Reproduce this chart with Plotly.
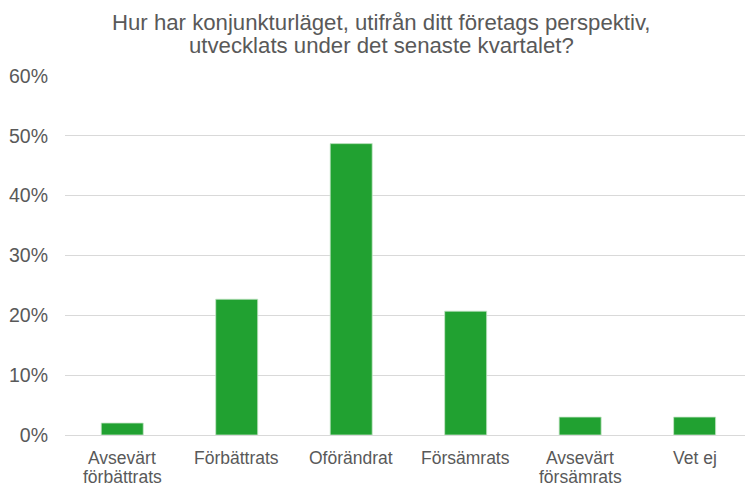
import plotly.graph_objects as go

categories = ["Avsevärt\nförbättrats", "Förbättrats", "Oförändrat", "Försämrats", "Avsevärt\nförsämrats", "Vet ej"]
values = [0.020, 0.227, 0.487, 0.207, 0.030, 0.030]
tick_vals = [0, 0.1, 0.2, 0.3, 0.4, 0.5, 0.6]
tick_text = ["0%", "10%", "20%", "30%", "40%", "50%", "60%"]
title_lines = ["Hur har konjunkturläget, utifrån ditt företags perspektiv,",
               "utvecklats under det senaste kvartalet?"]

W, H = 745, 486
M_L, M_R, M_T, M_B = 65, 0, 76, 51
PH = H - M_T - M_B
GREY = "#595959"

fig = go.Figure(go.Bar(
    x=list(range(len(categories))), y=values,
    marker=dict(color="#21a131", line=dict(color="#c8e6c9", width=0.8)),
    width=0.367, hoverinfo="skip",
))

annotations = []
# title lines
for i, line in enumerate(title_lines):
    yc = 22 + 24 * i
    annotations.append(dict(
        text=line, xref="paper", yref="paper",
        x=(381 - M_L) / (W - M_L - M_R), y=1 + (M_T - yc) / PH,
        xanchor="center", yanchor="middle", showarrow=False,
        font=dict(size=22.2, color=GREY)))
# category labels, line by line
for i, cat in enumerate(categories):
    for j, line in enumerate(cat.split("\n")):
        yc = 457.5 + 19.5 * j
        annotations.append(dict(
            text=line, xref="x", yref="paper", x=i, y=-(yc - (H - M_B)) / PH,
            xanchor="center", yanchor="middle", showarrow=False,
            font=dict(size=17.5, color=GREY)))

fig.update_layout(
    width=W, height=H,
    margin=dict(l=M_L, r=M_R, t=M_T, b=M_B),
    paper_bgcolor="white", plot_bgcolor="white",
    font=dict(family="Liberation Sans, Arial, sans-serif", color=GREY, size=17),
    showlegend=False,
    annotations=annotations,
)
fig.update_xaxes(
    range=[-0.5, 5.44], tickvals=list(range(len(categories))),
    showticklabels=False,
    showgrid=False, showline=True, linecolor="#d9d9d9", linewidth=1,
    ticks="", automargin=False, fixedrange=True,
)
fig.update_yaxes(
    range=[0, 0.6], tickvals=tick_vals, ticktext=tick_text,
    showgrid=True, gridcolor="#d9d9d9", gridwidth=1, zeroline=False,
    showline=False, ticks="", ticklabelstandoff=16, automargin=False,
    tickfont=dict(size=19.5, color=GREY), fixedrange=True,
)

fig.write_html("out.html", config={"displayModeBar": False},
               post_script="document.body.style.margin='0';")
